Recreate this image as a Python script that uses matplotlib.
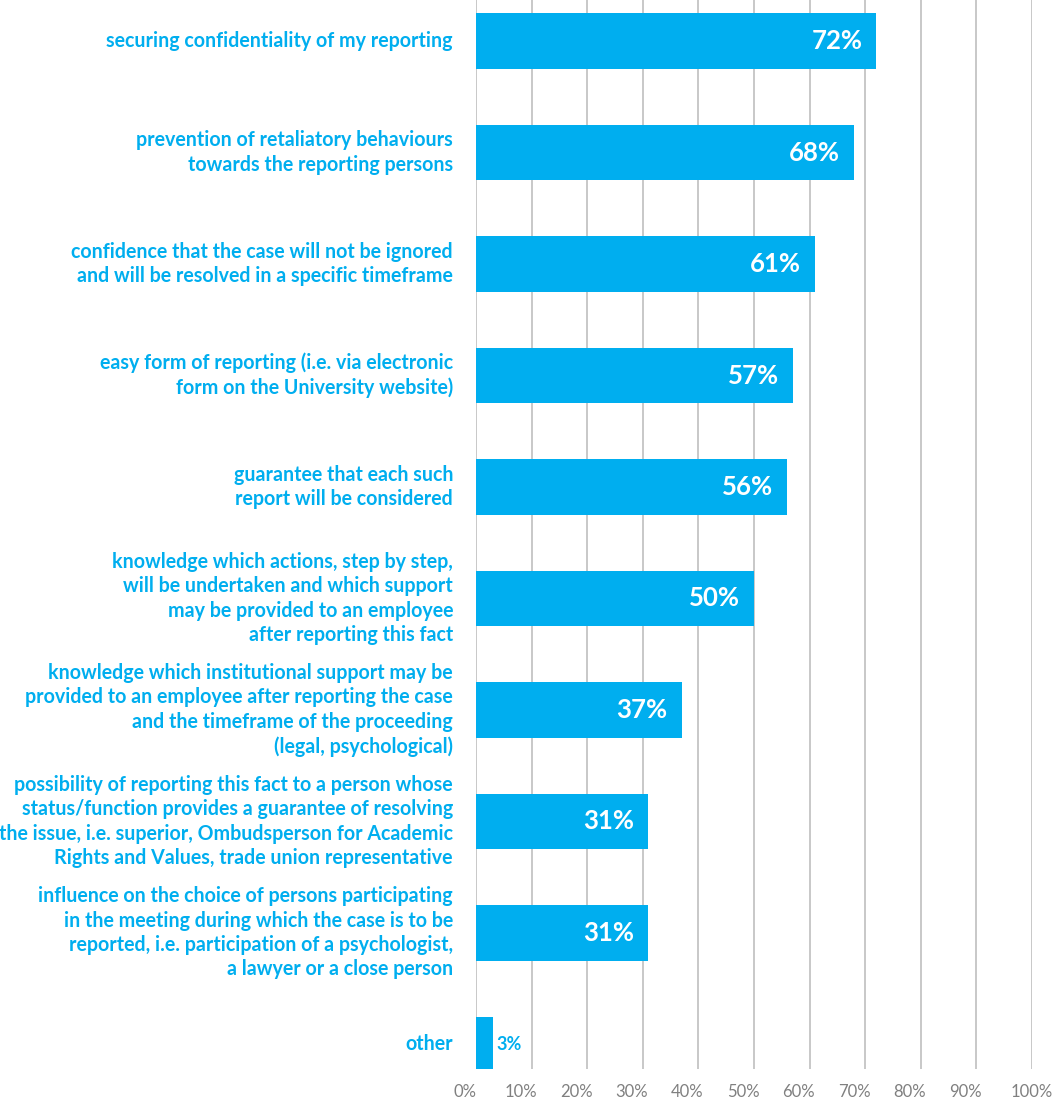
import numpy as np
import matplotlib
matplotlib.use("Agg")
import matplotlib.pyplot as plt
from matplotlib.transforms import ScaledTranslation

plt.rcParams['font.family'] = ['Lato', 'DejaVu Sans']

# survey answers, top to bottom
categories = [
    "securing confidentiality of my reporting",
    "prevention of retaliatory behaviours\ntowards the reporting persons",
    "confidence that the case will not be ignored\nand will be resolved in a specific timeframe",
    "easy form of reporting (i.e. via electronic\nform on the University website)",
    "guarantee that each such\nreport will be considered",
    "knowledge which actions, step by step,\nwill be undertaken and which support\n"
    "may be provided to an employee\nafter reporting this fact",
    "knowledge which institutional support may be\nprovided to an employee after reporting the case\n"
    "and the timeframe of the proceeding\n(legal, psychological)",
    "possibility of reporting this fact to a person whose\nstatus/function provides a guarantee of resolving\n"
    "the issue, i.e. superior, Ombudsperson for Academic\nRights and Values, trade union representative",
    "influence on the choice of persons participating\nin the meeting during which the case is to be\n"
    "reported, i.e. participation of a psychologist,\na lawyer or a close person",
    "other",
]
shares = [72, 68, 61, 57, 56, 50, 37, 31, 31, 3]
ticks = [0, 10, 20, 30, 40, 50, 60, 70, 80, 90, 100]

blue = "#00AEEF"
grey = "#808080"

W, H = 1058, 1101
fig = plt.figure(figsize=(W / 100, H / 100), dpi=100)
ax = fig.add_axes([476 / W, 32 / H, 556 / W, 1069 / H])

y = np.arange(len(categories))
ax.barh(y, shares, height=0.5, color=blue, zorder=3)

ax.set_xlim(0, 100)
ax.set_ylim(9.22, -0.368)
ax.set_xticks(ticks)
ax.set_xticklabels([f"{t}%" for t in ticks], fontsize=12, color=grey)
ax.tick_params(axis='x', length=0, pad=10.5)
ax.set_yticks([])
for t in ticks:
    ax.axvline(t, color="#BFBFBF", lw=1.2, zorder=1)
for s in ax.spines.values():
    s.set_visible(False)

# shift tick labels slightly left, keep the last one inside the figure
for lab, t in zip(ax.get_xticklabels(), ticks):
    dx = 0 if t == 100 else -11 / 100
    lab.set_transform(lab.get_transform() + ScaledTranslation(dx, 0, fig.dpi_scale_trans))

# category labels to the left of the bars
for yi, txt in zip(y, categories):
    ax.text(-23 / 556 * 100, yi, txt, ha='right', va='center', color=blue,
            fontsize=14.1, fontweight='bold', linespacing=1.27, clip_on=False)

# value labels
for yi, v in zip(y, shares):
    if v >= 10:
        ax.text(v - 14 / 556 * 100, yi, f"{v}%", ha='right', va='center',
                color='white', fontsize=18.5, fontweight='bold', zorder=4)
    else:
        ax.text(v + 0.6, yi, f"{v}%", ha='left', va='center',
                color=blue, fontsize=13, fontweight='bold', zorder=4)

fig.savefig("out.png", dpi=100)
